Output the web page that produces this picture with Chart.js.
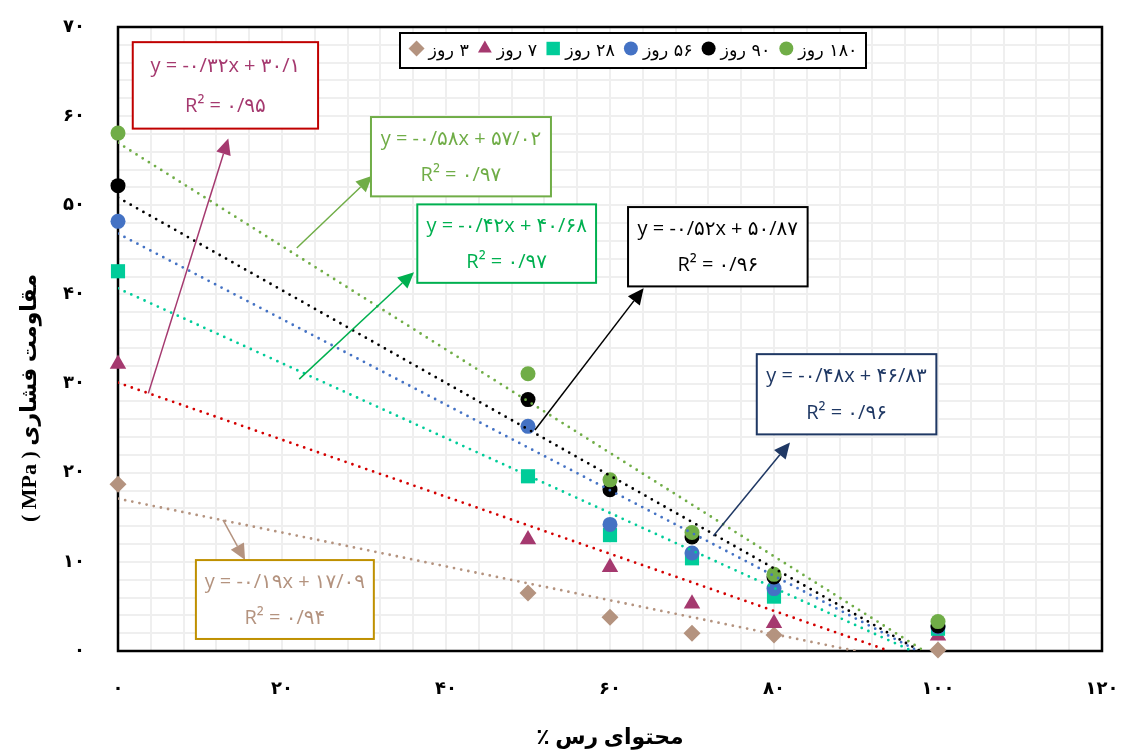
<!DOCTYPE html>
<html lang="fa">
<head>
<meta charset="utf-8">
<script src="https://cdn.jsdelivr.net/npm/chart.js@4.4.1/dist/chart.umd.min.js"></script>
<style>
  html, body { margin: 0; padding: 0; background: #fff; }
  #wrap { width: 1121px; height: 751px; position: relative; }
</style>
</head>
<body>
<div id="wrap"><canvas id="chart"></canvas></div>
<script>
// Curing ages, legend order left to right
const ageLabels = ['۳ روز', '۷ روز', '۲۸ روز', '۵۶ روز', '۹۰ روز', '۱۸۰ روز'];

// Clay content (%)
const clayContent = [0, 50, 60, 70, 80, 100];

// Compressive strength (MPa) for each age
const strength3 = [18.7, 6.5, 3.8, 2.0, 1.8, 0.1];
const strength7 = [32.2, 12.5, 9.4, 5.3, 3.1, 1.7];
const strength28 = [42.6, 19.6, 13.0, 10.4, 6.1, 2.5];
const strength56 = [48.2, 25.2, 14.2, 11.0, 7.0, 2.7];
const strength90 = [52.2, 28.2, 18.1, 12.8, 8.3, 2.8];
const strength180 = [58.1, 31.1, 19.2, 13.3, 8.6, 3.3];

// Linear trendlines as printed on the chart
const trendSlopes = [-0.19, -0.32, -0.42, -0.48, -0.52, -0.58];
const trendIntercepts = [17.09, 30.1, 40.68, 46.83, 50.87, 57.02];
const trendEquations = [
    'y = -۰/۱۹x + ۱۷/۰۹',
    'y = -۰/۳۲x + ۳۰/۱',
    'y = -۰/۴۲x + ۴۰/۶۸',
    'y = -۰/۴۸x + ۴۶/۸۳',
    'y = -۰/۵۲x + ۵۰/۸۷',
    'y = -۰/۵۸x + ۵۷/۰۲'
];
const trendR2 = ['R² = ۰/۹۴', 'R² = ۰/۹۵', 'R² = ۰/۹۷', 'R² = ۰/۹۶', 'R² = ۰/۹۶', 'R² = ۰/۹۷'];

// Tick labels
const xTickLabels = ['۰', '۲۰', '۴۰', '۶۰', '۸۰', '۱۰۰', '۱۲۰'];
const yTickLabels = ['۰', '۱۰', '۲۰', '۳۰', '۴۰', '۵۰', '۶۰', '۷۰'];

const xTitle = 'محتوای رس ٪';
const yTitle = 'مقاومت فشاری ( MPa )';

// Styles
const markerColors = ['#B4937F', '#A5396F', '#00CC99', '#4472C4', '#000000', '#70AD47'];
const trendColors = ['#B4937F', '#D40000', '#00CC99', '#4472C4', '#000000', '#70AD47'];
const markerStyles = ['rectRot', 'triangle', 'rect', 'circle', 'circle', 'circle'];
const markerRadius = [8.5, 9.5, 10, 7.5, 7.5, 7.5];

// Equation call-outs (box and arrow given in axis units)
const callouts = [
    { s: 0, box: [9.5, 10.2, 31.2, 1.35], text: '#B4937F', border: '#BF9000', arrow: '#B4937F', from: [12.8, 14.7], to: [15.5, 10.2] },
    { s: 1, box: [1.8, 68.3, 24.4, 58.6], text: '#A5396F', border: '#C00000', arrow: '#A5396F', from: [3.7, 28.9], to: [13.45, 57.5] },
    { s: 2, box: [36.5, 50.1, 58.3, 41.3], text: '#00B050', border: '#00B050', arrow: '#00B050', from: [22.1, 30.5], to: [36.1, 42.5] },
    { s: 3, box: [77.9, 33.3, 99.8, 24.3], text: '#1F3864', border: '#1F3864', arrow: '#1F3864', from: [72.6, 12.9], to: [81.95, 23.4] },
    { s: 4, box: [62.2, 49.8, 84.1, 40.9], text: '#000000', border: '#000000', arrow: '#000000', from: [50.85, 24.8], to: [64.1, 40.7] },
    { s: 5, box: [30.85, 59.9, 52.8, 51.0], text: '#70AD47', border: '#70AD47', arrow: '#70AD47', from: [21.8, 45.2], to: [31.0, 53.3] }
];

const seriesData = [strength3, strength7, strength28, strength56, strength90, strength180];

const datasets = [];
seriesData.forEach((vals, i) => {
    datasets.push({
        label: ageLabels[i],
        data: clayContent.map((x, j) => ({ x: x, y: vals[j] })),
        pointStyle: markerStyles[i],
        pointRadius: markerRadius[i],
        pointHoverRadius: markerRadius[i],
        pointBackgroundColor: markerColors[i],
        pointBorderWidth: 0,
        showLine: false,
        clip: false,
        order: 6 - i
    });
});
seriesData.forEach((vals, i) => {
    const xEnd = Math.min(100, -trendIntercepts[i] / trendSlopes[i]);
    datasets.push({
        label: 'trend',
        type: 'line',
        data: [
            { x: 0, y: trendIntercepts[i] },
            { x: xEnd, y: trendIntercepts[i] + trendSlopes[i] * xEnd }
        ],
        borderColor: trendColors[i],
        borderWidth: 2.8,
        borderDash: [0, 7.3],
        borderCapStyle: 'round',
        pointRadius: 0,
        fill: false,
        order: 0
    });
});

function drawArrow(ctx, x0, y0, x1, y1, color) {
    const ang = Math.atan2(y1 - y0, x1 - x0);
    const head = 16, half = 7.5;
    const bx = x1 - Math.cos(ang) * head, by = y1 - Math.sin(ang) * head;
    ctx.strokeStyle = color;
    ctx.fillStyle = color;
    ctx.lineWidth = 1.5;
    ctx.beginPath();
    ctx.moveTo(x0, y0);
    ctx.lineTo(bx, by);
    ctx.stroke();
    ctx.beginPath();
    ctx.moveTo(x1, y1);
    ctx.lineTo(bx + Math.sin(ang) * half, by - Math.cos(ang) * half);
    ctx.lineTo(bx - Math.sin(ang) * half, by + Math.cos(ang) * half);
    ctx.closePath();
    ctx.fill();
}

const decorPlugin = {
    id: 'decor',
    beforeDatasetsDraw(chart) {
        const { ctx, chartArea: a } = chart;
        ctx.save();
        ctx.strokeStyle = '#000';
        ctx.lineWidth = 2.5;
        ctx.strokeRect(a.left, a.top, a.right - a.left, a.bottom - a.top);
        ctx.restore();
    },
    afterDatasetsDraw(chart) {
        const { ctx } = chart;
        const xs = chart.scales.x, ys = chart.scales.y;
        ctx.save();
        callouts.forEach(c => {
            drawArrow(ctx,
                xs.getPixelForValue(c.from[0]), ys.getPixelForValue(c.from[1]),
                xs.getPixelForValue(c.to[0]), ys.getPixelForValue(c.to[1]), c.arrow);
        });
        callouts.forEach(c => {
            const l = xs.getPixelForValue(c.box[0]), t = ys.getPixelForValue(c.box[1]);
            const r = xs.getPixelForValue(c.box[2]), b = ys.getPixelForValue(c.box[3]);
            ctx.fillStyle = '#fff';
            ctx.fillRect(l, t, r - l, b - t);
            ctx.strokeStyle = c.border;
            ctx.lineWidth = 2;
            ctx.strokeRect(l, t, r - l, b - t);
            ctx.fillStyle = c.text;
            ctx.font = "20px 'Open Sans', 'DejaVu Sans', sans-serif";
            ctx.direction = 'ltr';
            ctx.textAlign = 'center';
            ctx.textBaseline = 'middle';
            const cx = (l + r) / 2, h = b - t;
            ctx.fillText(trendEquations[c.s], cx, t + h * 0.28);
            ctx.fillText(trendR2[c.s], cx, t + h * 0.74);
        });
        ctx.restore();
    },
    afterDraw(chart) {
        const { ctx, chartArea: a } = chart;
        ctx.save();
        // axis titles
        ctx.fillStyle = '#000';
        ctx.direction = 'rtl';
        ctx.textAlign = 'center';
        ctx.textBaseline = 'middle';
        ctx.font = "bold 22px 'Liberation Serif', 'DejaVu Sans', serif";
        ctx.fillText(xTitle, (a.left + a.right) / 2, 738);
        ctx.save();
        ctx.translate(30, 398);
        ctx.rotate(-Math.PI / 2);
        ctx.fillText(yTitle, 0, 0);
        ctx.restore();

        // legend
        const box = { left: 400, top: 33, right: 866, bottom: 68 };
        ctx.fillStyle = '#fff';
        ctx.fillRect(box.left, box.top, box.right - box.left, box.bottom - box.top);
        ctx.strokeStyle = '#000';
        ctx.lineWidth = 2;
        ctx.strokeRect(box.left, box.top, box.right - box.left, box.bottom - box.top);
        ctx.font = "17.5px 'DejaVu Sans', sans-serif";
        const gapMarker = 4, gapItem = 8, mk = 16;
        const widths = ageLabels.map(t => mk + gapMarker + ctx.measureText(t).width);
        const total = widths.reduce((s, w) => s + w, 0) + gapItem * (widths.length - 1);
        let x = (box.left + box.right) / 2 - total / 2;
        const cy = (box.top + box.bottom) / 2;
        ageLabels.forEach((t, i) => {
            const r = markerStyles[i] === 'circle' ? 7 : markerStyles[i] === 'rect' ? 9.5 : 8;
            ctx.fillStyle = markerColors[i];
            Chart.helpers.drawPoint(ctx, {
                pointStyle: markerStyles[i], radius: r, borderWidth: 0, rotation: 0
            }, x + mk / 2, cy - 2);
            ctx.fillStyle = '#000';
            ctx.direction = 'rtl';
            ctx.textAlign = 'left';
            ctx.fillText(t, x + mk + gapMarker, cy + 1);
            x += widths[i] + gapItem;
        });
        ctx.restore();
    }
};

new Chart(document.getElementById('chart'), {
    type: 'scatter',
    data: { datasets: datasets },
    options: {
        responsive: true,
        maintainAspectRatio: false,
        animation: false,
        events: [],
        layout: { padding: { left: 38, right: 19, top: 27, bottom: 0 } },
        plugins: {
            legend: { display: false },
            tooltip: { enabled: false }
        },
        scales: {
            x: {
                type: 'linear',
                min: 0,
                max: 120,
                afterFit: s => { s.height = 100; s.paddingLeft = 0; s.paddingRight = 0; },
                border: { display: false },
                grid: { color: '#EFEFEF', lineWidth: 2, drawTicks: false },
                ticks: {
                    stepSize: 4,
                    autoSkip: false,
                    maxRotation: 0,
                    padding: 28,
                    color: '#000',
                    font: { family: "'DejaVu Sans', sans-serif", size: 18, weight: 'bold' },
                    callback: v => (v % 20 === 0 ? xTickLabels[v / 20] : '')
                }
            },
            y: {
                min: 0,
                max: 70,
                afterFit: s => { s.width = 80; s.paddingTop = 0; s.paddingBottom = 0; },
                border: { display: false },
                grid: { color: '#EFEFEF', lineWidth: 2, drawTicks: false },
                ticks: {
                    stepSize: 2,
                    autoSkip: false,
                    padding: 33,
                    color: '#000',
                    font: { family: "'DejaVu Sans', sans-serif", size: 18, weight: 'bold' },
                    callback: v => (v % 10 === 0 ? yTickLabels[v / 10] : '')
                }
            }
        }
    },
    plugins: [decorPlugin]
});
</script>
</body>
</html>
